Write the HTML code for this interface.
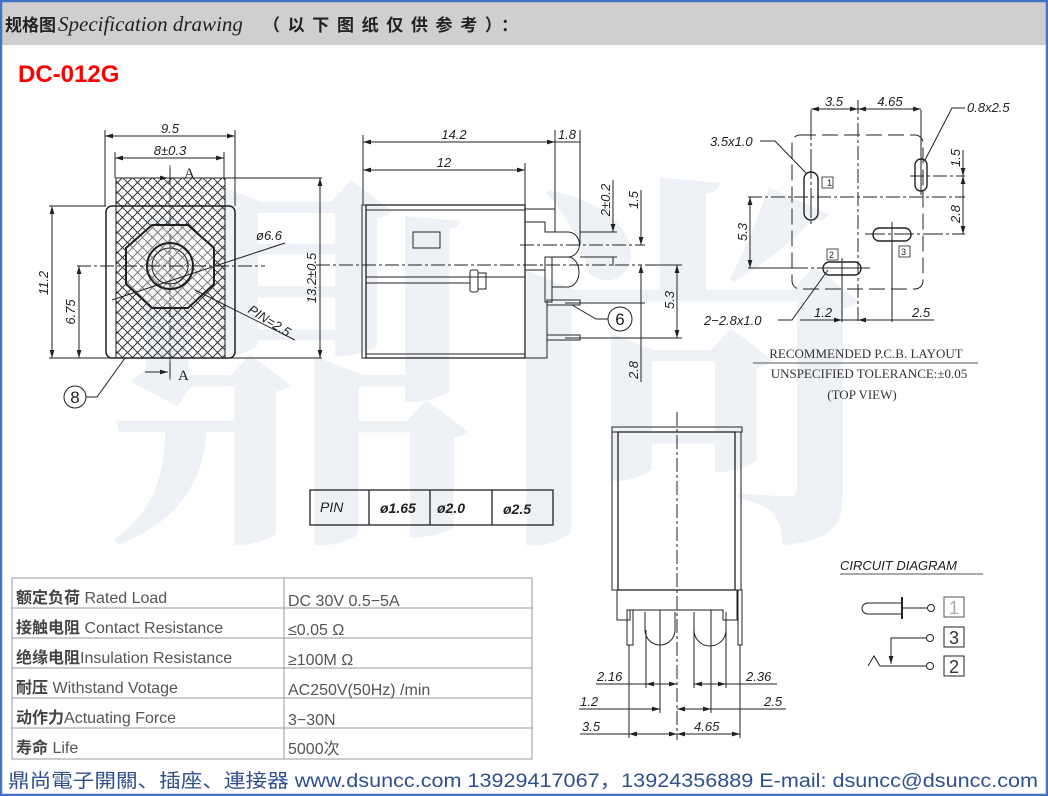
<!DOCTYPE html>
<html><head><meta charset="utf-8"><style>
html,body{margin:0;padding:0;background:#fff}
body{width:1048px;height:796px;overflow:hidden;position:relative}
svg{position:absolute;left:0;top:0}
.d{font-family:"Liberation Sans",sans-serif;font-style:italic;font-size:13px;fill:#222}
.t{font-family:"Liberation Sans","Noto Sans CJK SC",sans-serif;font-size:16px;fill:#555}
.s{font-family:"Liberation Serif",serif;font-size:13px;fill:#333}
</style></head><body>
<svg width="1048" height="796" viewBox="0 0 1048 796">
<defs>
<pattern id="h" width="10" height="10" patternUnits="userSpaceOnUse">
<path d="M0,10 L10,0 M-2,2 L2,-2 M8,12 L12,8" stroke="#333" stroke-width="1"/>
<path d="M0,5 L5,10 M5,0 L10,5" stroke="#333" stroke-width="1"/>
</pattern>
<marker id="a" viewBox="0 0 10 6" refX="10" refY="3" markerWidth="8" markerHeight="5" orient="auto-start-reverse"><path d="M0,0 L10,3 L0,6 z" fill="#222"/></marker>
</defs>
<!-- frame -->
<rect x="0" y="0" width="1048" height="45" fill="#d0cece"/>
<rect x="1" y="1" width="1046" height="794" fill="none" stroke="#4472c4" stroke-width="2.5"/>
<text x="5" y="31" font-family="'Noto Sans CJK SC',sans-serif" font-size="17" font-weight="bold" fill="#222">规格图</text>
<text x="58" y="31" font-family="'Liberation Serif',serif" font-style="italic" font-size="21" fill="#222">Specification drawing</text>
<text x="263" y="31" font-family="'Noto Sans CJK SC',sans-serif" font-size="17" font-weight="bold" fill="#222" textLength="255" lengthAdjust="spacing">（以下图纸仅供参考）：</text>
<text x="18" y="82" font-family="'Liberation Sans',sans-serif" font-size="24" font-weight="bold" fill="#ff0000">DC-012G</text>
<!-- watermark -->
<text x="100" y="510" font-family="'Noto Serif CJK SC',serif" font-size="390" font-weight="bold" fill="#eef1f5">鼎尚</text>

<g stroke="#222" stroke-width="1" fill="none">
<!-- FRONT VIEW -->
<rect x="116" y="178" width="109" height="180" fill="url(#h)" stroke="#222"/>
<rect x="106" y="206" width="129" height="152" rx="6" stroke-width="1.5"/>
<polygon points="152,225 188,225 214,248 214,284 188,308 152,308 126,284 126,248" stroke-width="2" fill="#fff" fill-opacity="0.35"/>
<circle cx="170" cy="266" r="23" stroke-width="2"/>
<circle cx="170" cy="266" r="18"/>
<line x1="77" y1="266" x2="265" y2="266" stroke-dasharray="14,3,3,3"/>
<line x1="170" y1="165" x2="170" y2="380" stroke-dasharray="14,3,3,3" stroke-width="0.7"/>
<line x1="105" y1="130" x2="105" y2="206"/><line x1="235" y1="130" x2="235" y2="206"/>
<line x1="105" y1="136" x2="235" y2="136" marker-start="url(#a)" marker-end="url(#a)"/>
<line x1="115" y1="152" x2="115" y2="178"/><line x1="224" y1="152" x2="224" y2="178"/>
<line x1="115" y1="158" x2="224" y2="158" marker-start="url(#a)" marker-end="url(#a)"/>
<line x1="145" y1="178" x2="168" y2="178" marker-end="url(#a)"/><line x1="170" y1="168" x2="170" y2="184"/>
<line x1="145" y1="372" x2="168" y2="372" marker-end="url(#a)"/><line x1="170" y1="362" x2="170" y2="378"/>
<line x1="49" y1="206" x2="106" y2="206"/><line x1="49" y1="358" x2="322" y2="358"/>
<line x1="224" y1="178" x2="322" y2="178"/>
<line x1="52" y1="206" x2="52" y2="358" marker-start="url(#a)" marker-end="url(#a)"/>
<line x1="79" y1="266" x2="79" y2="358" marker-start="url(#a)" marker-end="url(#a)"/>
<line x1="320" y1="178" x2="320" y2="358" marker-start="url(#a)" marker-end="url(#a)"/>
<line x1="112" y1="300" x2="285" y2="243"/>
<line x1="195" y1="290" x2="295" y2="340"/>
<circle cx="75" cy="397" r="11"/>
<polyline points="86,397 97,397 125,358"/>
</g>
<g class="d">
<text x="170" y="133" text-anchor="middle">9.5</text>
<text x="170" y="155" text-anchor="middle">8±0.3</text>
<text x="184" y="178" font-family="'Liberation Serif',serif" font-style="normal" font-size="15">A</text>
<text x="178" y="380" font-family="'Liberation Serif',serif" font-style="normal" font-size="15">A</text>
<text x="256" y="240">ø6.6</text>
<text transform="translate(247,312) rotate(32)">PIN=2.5</text>
<text transform="translate(48,283) rotate(-90)" text-anchor="middle">11.2</text>
<text transform="translate(75,312) rotate(-90)" text-anchor="middle">6.75</text>
<text transform="translate(316,278) rotate(-90)" text-anchor="middle">13.2±0.5</text>
<text x="75" y="403" text-anchor="middle" font-style="normal" font-size="17">8</text>
</g>

<!-- SIDE VIEW -->
<g stroke="#222" stroke-width="1" fill="none">
<rect x="362" y="205" width="4" height="153"/>
<rect x="366" y="205" width="159" height="153" stroke-width="1.3"/>
<line x1="366" y1="210" x2="525" y2="210"/><line x1="366" y1="354" x2="525" y2="354"/>
<rect x="413" y="232" width="27" height="16"/>
<line x1="366" y1="277" x2="525" y2="277"/><line x1="366" y1="283" x2="470" y2="283"/>
<rect x="470" y="270" width="8" height="22" rx="2"/><rect x="478" y="273" width="8" height="16"/>
<path d="M525,209 H555 V232 H545 V222 H525"/>
<path d="M545,232 H568 A11,12 0 0 1 568,257 H545"/>
<path d="M552,257 H568 A11,15 0 0 1 568,287 H552"/>
<rect x="545" y="257" width="7" height="45"/>
<path d="M525,270 H545 V302 H547 V358 H525"/>
<rect x="547" y="300" width="33" height="5"/><rect x="547" y="335" width="33" height="5"/>
<line x1="316" y1="265" x2="642" y2="265" stroke-dasharray="14,3,3,3"/>
<line x1="520" y1="245" x2="645" y2="245" stroke-dasharray="14,3,3,3"/>
<line x1="363" y1="135" x2="363" y2="205"/><line x1="555" y1="130" x2="555" y2="209"/><line x1="580" y1="130" x2="580" y2="245"/>
<line x1="525" y1="163" x2="525" y2="205"/>
<line x1="363" y1="142" x2="555" y2="142" marker-start="url(#a)" marker-end="url(#a)"/>
<line x1="555" y1="142" x2="580" y2="142"/>
<line x1="363" y1="170" x2="525" y2="170" marker-start="url(#a)" marker-end="url(#a)"/>
<line x1="580" y1="232" x2="617" y2="232"/><line x1="580" y1="257" x2="617" y2="257"/>
<line x1="613" y1="180" x2="613" y2="232" marker-end="url(#a)"/><line x1="613" y1="257" x2="613" y2="266" />
<line x1="641" y1="190" x2="641" y2="245" marker-end="url(#a)"/><line x1="641" y1="265" x2="641" y2="382" marker-start="url(#a)"/>
<line x1="565" y1="303" x2="645" y2="303"/><line x1="565" y1="338" x2="682" y2="338"/><line x1="645" y1="265" x2="682" y2="265"/>
<line x1="677" y1="265" x2="677" y2="338" marker-start="url(#a)" marker-end="url(#a)"/>
<circle cx="620" cy="319" r="12"/><polyline points="608,319 596,319 572,305"/>
</g>
<g class="d">
<text x="454" y="139" text-anchor="middle">14.2</text>
<text x="567" y="139" text-anchor="middle">1.8</text>
<text x="444" y="167" text-anchor="middle">12</text>
<text transform="translate(610,200) rotate(-90)" text-anchor="middle">2±0.2</text>
<text transform="translate(638,200) rotate(-90)" text-anchor="middle">1.5</text>
<text transform="translate(674,300) rotate(-90)" text-anchor="middle">5.3</text>
<text transform="translate(638,370) rotate(-90)" text-anchor="middle">2.8</text>
<text x="620" y="325" text-anchor="middle" font-style="normal" font-size="17">6</text>
</g>

<!-- PCB LAYOUT -->
<g stroke="#222" stroke-width="1" fill="none">
<rect x="792" y="135" width="131" height="154" rx="8" stroke-dasharray="16,6"/>
<line x1="858" y1="100" x2="858" y2="322" stroke-dasharray="14,3,3,3"/>
<line x1="748" y1="197" x2="965" y2="197" stroke-dasharray="14,3,3,3"/>
<line x1="811" y1="110" x2="811" y2="225" stroke-dasharray="30,3,3,3"/>
<line x1="921" y1="110" x2="921" y2="195"/>
<line x1="910" y1="176" x2="965" y2="176" stroke-dasharray="14,3,3,3"/>
<line x1="865" y1="234" x2="965" y2="234" stroke-dasharray="20,3,3,3"/>
<line x1="748" y1="268" x2="870" y2="268" stroke-dasharray="60,3,3,3"/>
<rect x="804" y="172" width="14" height="48" rx="7" stroke-width="1.4"/>
<rect x="915" y="159" width="12" height="32" rx="6" stroke-width="1.4"/>
<rect x="873" y="228" width="38" height="13" rx="6.5" stroke-width="1.4"/>
<rect x="823" y="262" width="38" height="13" rx="6.5" stroke-width="1.4"/>
<line x1="892" y1="222" x2="892" y2="322"/><line x1="842" y1="258" x2="842" y2="322"/>
<rect x="822" y="177" width="11" height="11" stroke-width="0.8"/>
<rect x="899" y="246" width="11" height="11" stroke-width="0.8"/>
<rect x="827" y="249" width="11" height="11" stroke-width="0.8"/>
<line x1="811" y1="109" x2="858" y2="109" marker-start="url(#a)" marker-end="url(#a)"/>
<line x1="858" y1="109" x2="921" y2="109" marker-start="url(#a)" marker-end="url(#a)"/>
<line x1="963" y1="150" x2="963" y2="176" marker-end="url(#a)"/>
<line x1="963" y1="176" x2="963" y2="197" marker-start="url(#a)"/>
<line x1="963" y1="197" x2="963" y2="234" marker-end="url(#a)"/>
<line x1="750" y1="197" x2="750" y2="268" marker-start="url(#a)" marker-end="url(#a)"/>
<line x1="800" y1="320" x2="842" y2="320" marker-end="url(#a)"/><line x1="842" y1="320" x2="858" y2="320"/>
<line x1="858" y1="320" x2="892" y2="320" marker-start="url(#a)"/><line x1="892" y1="320" x2="934" y2="320"/>
<polyline points="760,141 775,141 806,173"/>
<polyline points="965,108 952,108 925,160"/>
<polyline points="778,320 792,320 828,270"/>
<line x1="753" y1="363" x2="978" y2="363" stroke="#555"/>
</g>
<g class="d">
<text x="834" y="106" text-anchor="middle">3.5</text>
<text x="890" y="106" text-anchor="middle">4.65</text>
<text x="710" y="146">3.5x1.0</text>
<text x="967" y="112">0.8x2.5</text>
<text x="704" y="325">2−2.8x1.0</text>
<text x="814" y="317">1.2</text>
<text x="912" y="317">2.5</text>
<text transform="translate(960,158) rotate(-90)" text-anchor="middle">1.5</text>
<text transform="translate(960,214) rotate(-90)" text-anchor="middle">2.8</text>
<text transform="translate(747,232) rotate(-90)" text-anchor="middle">5.3</text>
<text x="827" y="186" font-size="9" font-style="normal">1</text>
<text x="901" y="255" font-size="9" font-style="normal">3</text>
<text x="829" y="258" font-size="9" font-style="normal">2</text>
</g>
<g class="s" text-anchor="middle">
<text x="866" y="358">RECOMMENDED P.C.B. LAYOUT</text>
<text x="869" y="378">UNSPECIFIED TOLERANCE:±0.05</text>
<text x="862" y="399">(TOP VIEW)</text>
</g>

<!-- BOTTOM VIEW -->
<g stroke="#222" stroke-width="1" fill="none">
<rect x="612" y="427" width="130" height="5"/>
<rect x="612" y="432" width="6" height="158"/>
<rect x="618" y="432" width="117" height="158" stroke-width="1.3"/>
<rect x="735" y="432" width="6" height="158"/>
<path d="M617,590 V620 H630 V610 H723 V620 H737 V590"/>
<rect x="627" y="610" width="6" height="35"/>
<rect x="738" y="590" width="4" height="55"/>
<path d="M645,612 V630 A15,15 0 0 0 675,630 V612"/>
<path d="M694,612 V630 A15,15 0 0 0 726,630 V612"/>
<line x1="677" y1="412" x2="677" y2="740" stroke-dasharray="14,3,3,3"/>
<line x1="629" y1="645" x2="629" y2="738"/><line x1="646" y1="630" x2="646" y2="688"/>
<line x1="660" y1="610" x2="660" y2="713"/><line x1="694" y1="630" x2="694" y2="688"/>
<line x1="711" y1="610" x2="711" y2="713"/><line x1="726" y1="630" x2="726" y2="688"/>
<line x1="740" y1="645" x2="740" y2="738"/>
<line x1="596" y1="684" x2="646" y2="684"/><line x1="646" y1="684" x2="677" y2="684" marker-start="url(#a)" marker-end="url(#a)"/>
<line x1="694" y1="684" x2="726" y2="684" marker-start="url(#a)" marker-end="url(#a)"/><line x1="726" y1="684" x2="777" y2="684"/>
<line x1="579" y1="709" x2="660" y2="709" marker-end="url(#a)"/><line x1="677" y1="709" x2="711" y2="709" marker-start="url(#a)" marker-end="url(#a)"/><line x1="711" y1="709" x2="786" y2="709"/>
<line x1="580" y1="734" x2="629" y2="734"/><line x1="629" y1="734" x2="677" y2="734" marker-start="url(#a)" marker-end="url(#a)"/>
<line x1="677" y1="734" x2="740" y2="734" marker-start="url(#a)" marker-end="url(#a)"/>
</g>
<g class="d">
<text x="597" y="681">2.16</text><text x="746" y="681">2.36</text>
<text x="580" y="706">1.2</text><text x="764" y="706">2.5</text>
<text x="582" y="731">3.5</text><text x="694" y="731">4.65</text>
</g>

<!-- CIRCUIT -->
<g stroke="#222" stroke-width="1" fill="none">
<line x1="840" y1="574" x2="983" y2="574" stroke="#555"/>
<path d="M902,603 H868 A6,5.5 0 0 0 868,614 H902"/>
<line x1="902" y1="597" x2="902" y2="619" stroke-width="2"/>
<line x1="903" y1="608" x2="927" y2="608"/><circle cx="931" cy="608" r="3.5"/>
<rect x="944" y="597" width="20" height="20" stroke="#555"/>
<polyline points="927,638 891,638 891,664" marker-end="url(#a)"/><circle cx="930" cy="638" r="3.5"/>
<rect x="944" y="627" width="20" height="20"/>
<polyline points="868,666 874,656 880,666 927,666"/><circle cx="930" cy="666" r="3.5"/>
<rect x="944" y="656" width="20" height="20"/>
</g>
<text x="840" y="570" class="d" font-size="14" fill="#444">CIRCUIT  DIAGRAM</text>
<g font-family="'Liberation Sans',sans-serif" font-size="18" text-anchor="middle">
<text x="954" y="614" fill="#aaa">1</text><text x="954" y="644" fill="#333">3</text><text x="954" y="673" fill="#333">2</text>
</g>

<!-- PIN TABLE -->
<g stroke="#222" stroke-width="1.3" fill="none">
<rect x="310" y="490" width="243" height="35"/>
<line x1="369" y1="490" x2="369" y2="525"/><line x1="430" y1="490" x2="430" y2="525"/><line x1="492" y1="490" x2="492" y2="525"/>
</g>
<g font-family="'Liberation Sans',sans-serif" font-style="italic" font-size="14" fill="#222">
<text x="320" y="512">PIN</text>
<text x="380" y="513" font-weight="bold">ø1.65</text>
<text x="437" y="513" font-weight="bold">ø2.0</text>
<text x="503" y="514" font-weight="bold">ø2.5</text>
</g>

<!-- SPEC TABLE -->
<g stroke="#999" stroke-width="1" fill="none">
<rect x="12" y="578" width="520" height="181"/>
<line x1="284" y1="578" x2="284" y2="759"/>
<line x1="12" y1="608" x2="532" y2="608"/><line x1="12" y1="638" x2="532" y2="638"/>
<line x1="12" y1="668" x2="532" y2="668"/><line x1="12" y1="698" x2="532" y2="698"/>
<line x1="12" y1="728" x2="532" y2="728"/>
</g>
<g class="t">
<text x="16" y="603"><tspan font-weight="bold" fill="#444">额定负荷</tspan> Rated Load</text>
<text x="16" y="633"><tspan font-weight="bold" fill="#444">接触电阻</tspan> Contact Resistance</text>
<text x="16" y="663"><tspan font-weight="bold" fill="#444">绝缘电阻</tspan>Insulation Resistance</text>
<text x="16" y="693"><tspan font-weight="bold" fill="#444">耐压</tspan>  Withstand Votage</text>
<text x="16" y="723"><tspan font-weight="bold" fill="#444">动作力</tspan>Actuating  Force</text>
<text x="16" y="753"><tspan font-weight="bold" fill="#444">寿命</tspan>   Life</text>
<text x="288" y="606">DC 30V 0.5−5A</text>
<text x="288" y="635">≤0.05 Ω</text>
<text x="288" y="665">≥100M Ω</text>
<text x="288" y="695">AC250V(50Hz) /min</text>
<text x="288" y="725">3−30N</text>
<text x="288" y="754">5000次</text>
</g>

<!-- FOOTER -->
<text x="8" y="787" font-family="'Liberation Sans','Noto Sans CJK SC',sans-serif" font-size="19" fill="#2f4f8f" textLength="1030" lengthAdjust="spacingAndGlyphs">鼎尚電子開關、插座、連接器   www.dsuncc.com   13929417067，13924356889  E-mail: dsuncc@dsuncc.com</text>
</svg>
</body></html>
